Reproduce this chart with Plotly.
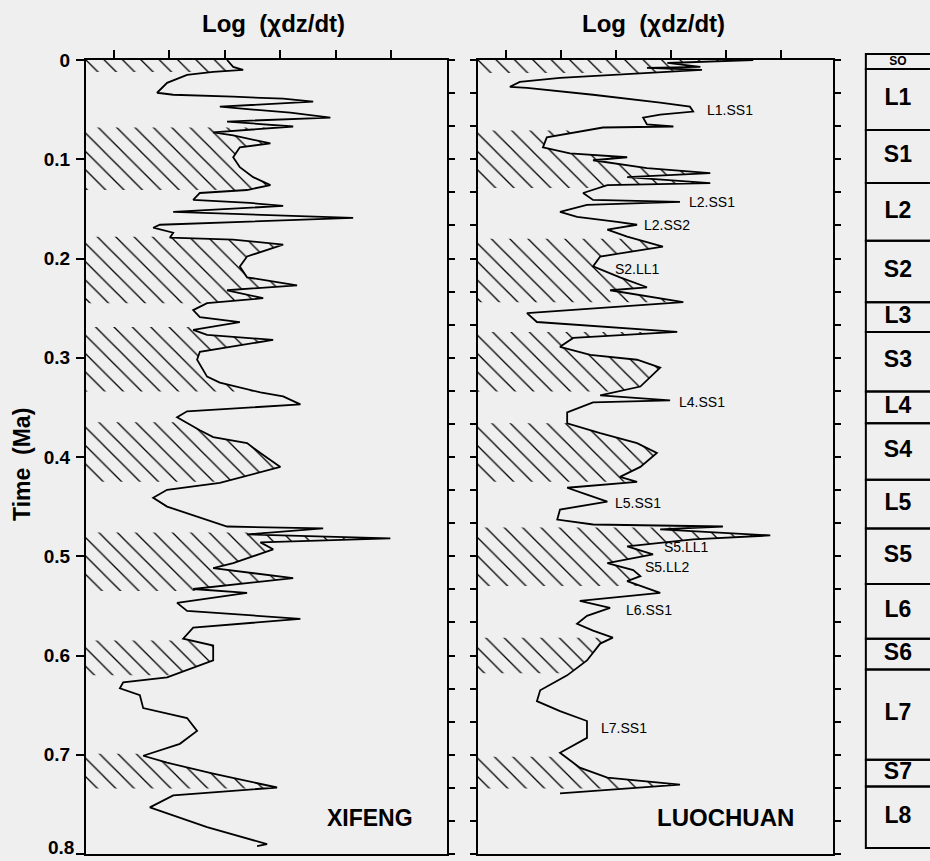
import numpy as np
import plotly.graph_objects as go

# ---------------- data ----------------
XF_T = [0, .007, .010, .012, .015, .023, .033, .035, .037, .039,
        .042, .047, .050, .053, .058, .062, .067, .073, .076, .084,
        .088, .098, .108, .118, .126, .131, .134, .141, .144, .147,
        .153, .159, .166, .169, .174, .179, .181, .186, .198, .208,
        .219, .227, .232, .240, .245, .252, .259, .264, .272, .277,
        .282, .294, .302, .319, .325, .335, .339, .347, .354, .360,
        .373, .380, .386, .396, .410, .426, .433, .441, .450, .470,
        .472, .478, .482, .486, .493, .507, .512, .522, .533, .537,
        .547, .555, .563, .572, .583, .590, .605, .622, .627, .633,
        .640, .653, .663, .676, .689, .701, .708, .719, .733, .741,
        .753, .773, .790, .792]
XF_V = [2.54, 2.65, 2.83, 2.29, 1.82, 1.46, 1.28, 1.57, 2.65, 3.55,
        4.09, 2.41, 3.01, 3.68, 4.40, 2.54, 3.73, 2.29, 2.65, 3.32,
        2.77, 2.65, 2.77, 3.01, 3.32, 2.90, 2.05, 1.93, 2.95, 3.55,
        1.57, 4.81, 1.33, 1.21, 1.57, 1.51, 2.65, 3.55, 2.90, 2.77,
        2.90, 3.80, 2.54, 3.19, 2.18, 1.93, 2.05, 2.77, 1.93, 2.18,
        3.37, 2.05, 2.00, 2.18, 2.41, 3.14, 3.55, 3.86, 1.82, 1.64,
        2.05, 2.29, 2.90, 3.14, 3.50, 2.41, 1.46, 1.21, 1.46, 2.54,
        4.27, 2.90, 5.48, 3.14, 3.37, 2.65, 2.29, 3.73, 1.93, 2.90,
        1.64, 1.82, 3.86, 1.93, 1.75, 2.29, 2.29, 1.46, 0.67, 0.61,
        0.97, 1.03, 1.82, 2.00, 1.69, 1.03, 1.46, 2.29, 3.44, 1.57,
        1.15, 2.18, 3.26, 3.08]

LC_T = [0, .002, .003, .007, .008, .010, .015, .018, .022, .027,
        .028, .035, .043, .047, .052, .055, .058, .065, .067, .068,
        .078, .088, .094, .098, .101, .109, .114, .118, .124, .126,
        .134, .141, .143, .146, .153, .158, .163, .166, .171, .178,
        .188, .198, .208, .219, .229, .232, .244, .255, .264, .274,
        .280, .289, .297, .302, .310, .319, .329, .338, .343, .345,
        .355, .366, .376, .386, .396, .410, .420, .425, .431, .438,
        .445, .453, .463, .468, .470, .473, .479, .483, .490, .498,
        .507, .514, .520, .525, .537, .545, .552, .560, .568, .575,
        .582, .588, .605, .620, .635, .646, .656, .666, .683, .698,
        .713, .723, .730, .739]
LC_V = [5.00, 3.91, 3.44, 4.04, 3.07, 4.07, 2.40, 1.49, 0.76, 0.58,
        0.89, 2.09, 3.31, 3.85, 3.91, 3.31, 3.00, 3.07, 3.55, 2.27,
        1.25, 1.18, 1.67, 2.71, 2.09, 3.07, 4.22, 2.71, 4.22, 2.35,
        1.91, 2.09, 3.67, 1.98, 1.49, 1.80, 2.53, 2.89, 2.35, 2.71,
        3.36, 2.22, 2.09, 2.58, 3.07, 2.40, 3.73, 0.89, 1.07, 3.62,
        1.73, 1.49, 2.04, 2.89, 3.31, 3.13, 2.95, 2.22, 3.49, 2.09,
        1.62, 1.62, 2.22, 2.89, 3.25, 2.95, 2.58, 2.89, 1.62, 1.98,
        2.35, 1.49, 1.44, 2.09, 4.45, 3.31, 5.31, 3.91, 2.71, 3.18,
        2.35, 2.82, 2.95, 2.71, 3.31, 1.85, 2.40, 1.98, 1.80, 2.09,
        2.45, 2.22, 1.98, 1.62, 1.13, 1.07, 1.49, 1.98, 1.98, 1.49,
        1.85, 2.35, 3.67, 1.49]

# paleosol (hatched) intervals, Ma
XF_HATCH_START = [0.0, 0.068, 0.178, 0.269, 0.365, 0.476, 0.585, 0.699]
XF_HATCH_END = [0.012, 0.131, 0.245, 0.334, 0.425, 0.535, 0.620, 0.734]
LC_HATCH_START = [0.0, 0.071, 0.180, 0.274, 0.366, 0.471, 0.582, 0.702]
LC_HATCH_END = [0.013, 0.129, 0.244, 0.334, 0.425, 0.530, 0.618, 0.734]

# Luochuan sub-unit labels
LC_LABELS = ["L1.SS1", "L2.SS1", "L2.SS2", "S2.LL1", "L4.SS1", "L5.SS1",
             "S5.LL1", "S5.LL2", "L6.SS1", "L7.SS1"]
LC_LABEL_X = [4.13, 3.80, 2.98, 2.45, 3.62, 2.45, 3.35, 3.00, 2.65, 2.20]
LC_LABEL_T = [0.050, 0.143, 0.166, 0.211, 0.345, 0.446, 0.491, 0.511, 0.554, 0.673]

# stratigraphic column
STRAT_UNITS = ["SO", "L1", "S1", "L2", "S2", "L3", "S3", "L4", "S4",
               "L5", "S5", "L6", "S6", "L7", "S7", "L8"]
STRAT_BOUNDS = [-0.006, 0.009, 0.0705, 0.124, 0.182, 0.244, 0.274, 0.334,
                0.366, 0.423, 0.472, 0.528, 0.583, 0.614, 0.705, 0.732, 0.794]

TIME_TICKS = [0, 0.1, 0.2, 0.3, 0.4, 0.5, 0.6, 0.7, 0.8]
TIME_LABELS = ["0", "0.1", "0.2", "0.3", "0.4", "0.5", "0.6", "0.7", "0.8"]
X_TICKS = [0.5, 1.5, 2.5, 3.5, 4.5, 5.5]

# ---------------- figure ----------------
W, H = 930, 861
FONT = "Liberation Sans"
BG = "#efefef"
YDOM = [(H - 854) / H, (H - 60) / H]
YRANGE = [0.8, 0.0]


def hatch_polygon(ts, vs, t1, t2):
    ts = np.asarray(ts, float)
    vs = np.asarray(vs, float)
    m = (ts > t1) & (ts < t2)
    v1 = float(np.interp(t1, ts, vs))
    v2 = float(np.interp(t2, ts, vs))
    px = [0, v1] + list(vs[m]) + [v2, 0]
    py = [t1, t1] + list(ts[m]) + [t2, t2]
    return px, py


fig = go.Figure()

pattern = dict(shape="\\", fgcolor="black", bgcolor="rgba(0,0,0,0)",
               size=13, solidity=0.1, fillmode="replace")

for (ts, vs, starts, ends, xa, ya) in [
        (XF_T, XF_V, XF_HATCH_START, XF_HATCH_END, "x", "y"),
        (LC_T, LC_V, LC_HATCH_START, LC_HATCH_END, "x2", "y3")]:
    for t1, t2 in zip(starts, ends):
        px, py = hatch_polygon(ts, vs, t1, t2)
        fig.add_trace(go.Scatter(
            x=px, y=py, mode="lines", fill="toself",
            fillcolor="rgba(0,0,0,0)", fillpattern=pattern,
            line=dict(width=0, color="rgba(0,0,0,0)"),
            xaxis=xa, yaxis=ya, hoverinfo="skip", showlegend=False))
    fig.add_trace(go.Scatter(
        x=vs, y=ts, mode="lines", line=dict(color="black", width=1.8),
        xaxis=xa, yaxis=ya, showlegend=False))

# invisible traces to make sure overlay axes are drawn
fig.add_trace(go.Scatter(x=[0], y=[0], mode="markers", marker=dict(opacity=0),
                         xaxis="x", yaxis="y2", showlegend=False, hoverinfo="skip"))
fig.add_trace(go.Scatter(x=[0], y=[0], mode="markers", marker=dict(opacity=0),
                         xaxis="x2", yaxis="y4", showlegend=False, hoverinfo="skip"))

# stratigraphic column as stacked bars
thick = [b - a for a, b in zip(STRAT_BOUNDS[:-1], STRAT_BOUNDS[1:])]
fig.add_trace(go.Bar(
    x=[1.5] * len(STRAT_UNITS), y=thick, base=STRAT_BOUNDS[:-1], width=3.0,
    marker=dict(color="rgba(0,0,0,0)", line=dict(color="black", width=2)),
    xaxis="x3", yaxis="y5", showlegend=False, hoverinfo="skip"))
mids = [(a + b) / 2 for a, b in zip(STRAT_BOUNDS[:-1], STRAT_BOUNDS[1:])]
fig.add_trace(go.Scatter(
    x=[0.5] * len(STRAT_UNITS), y=mids, mode="text", text=STRAT_UNITS,
    textfont=dict(family=FONT, size=[12] + [23] * (len(STRAT_UNITS) - 1),
                  color="black", weight="bold"),
    xaxis="x3", yaxis="y5", showlegend=False, hoverinfo="skip"))

axis_line = dict(showline=True, linecolor="black", linewidth=2,
                 showgrid=False, zeroline=False, automargin=False)

# last tick label is drawn separately (nudged up so it stays inside the page)
tick_text = TIME_LABELS[:-1] + [""]

layout = dict(
    width=W, height=H, margin=dict(l=0, r=0, t=0, b=0, pad=0),
    autosize=False,
    paper_bgcolor=BG, plot_bgcolor=BG, showlegend=False,
    font=dict(family=FONT, color="black"),
    xaxis=dict(domain=[86 / W, 447 / W], range=[0, 6.5], side="top",
               tickvals=X_TICKS, showticklabels=False, ticks="outside",
               ticklen=8, tickwidth=2, tickcolor="black", mirror=True,
               anchor="y", **axis_line),
    yaxis=dict(domain=YDOM, range=YRANGE, tickvals=TIME_TICKS,
               ticktext=tick_text, anchor="x", ticklabeloverflow="allow",
               ticks="outside", ticklen=8, tickwidth=2, tickcolor="black",
               tickfont=dict(family=FONT, size=19, color="black", weight="bold"),
               ticklabelstandoff=2, **axis_line),
    yaxis2=dict(domain=YDOM, range=YRANGE, overlaying="y", side="right",
                anchor="x", dtick=0.1 / 3, tick0=0, ticks="outside",
                ticklen=6, tickwidth=2, tickcolor="black",
                showticklabels=False, **axis_line),
    xaxis2=dict(domain=[478 / W, 833 / W], range=[0, 6.45], side="top",
                tickvals=X_TICKS, showticklabels=False, ticks="outside",
                ticklen=8, tickwidth=2, tickcolor="black", mirror=True,
                anchor="y3", **axis_line),
    yaxis3=dict(domain=YDOM, range=YRANGE, anchor="x2", dtick=0.1 / 3,
                tick0=0, ticks="outside", ticklen=6, tickwidth=2,
                tickcolor="black", showticklabels=False, **axis_line),
    yaxis4=dict(domain=YDOM, range=YRANGE, overlaying="y3", side="right",
                anchor="x2", dtick=0.1 / 3, tick0=0, ticks="outside",
                ticklen=6, tickwidth=2, tickcolor="black",
                showticklabels=False, **axis_line),
    xaxis3=dict(domain=[862 / W, 1.0], range=[-0.06, 1.0], visible=False,
                anchor="y5"),
    yaxis5=dict(domain=[(H - 854) / H, (H - 50) / H],
                range=[0.8, -0.0101], visible=False, anchor="x3"),
    bargap=0,
)
fig.update_layout(**layout)

ann = []
for cx in [273, 653]:
    ann.append(dict(text="Log  (χdz/dt)", x=cx / W, y=1 - 23 / H,
                    xref="paper", yref="paper", showarrow=False,
                    xanchor="center", yanchor="middle",
                    font=dict(family=FONT, size=24, color="black", weight="bold")))
ann.append(dict(text="Time  (Ma)", x=22 / W, y=1 - 465 / H, xref="paper",
                yref="paper", textangle=-90, showarrow=False,
                xanchor="center", yanchor="middle",
                font=dict(family=FONT, size=23, color="black", weight="bold")))
ann.append(dict(text=TIME_LABELS[-1], x=76 / W, y=1 / H, xref="paper",
                yref="paper", showarrow=False, xanchor="right",
                yanchor="bottom",
                font=dict(family=FONT, size=19, color="black", weight="bold")))
ann.append(dict(text="XIFENG", x=5.12, y=0.764, xref="x", yref="y",
                showarrow=False, xanchor="center", yanchor="middle",
                font=dict(family=FONT, size=23, color="black", weight="bold")))
ann.append(dict(text="LUOCHUAN", x=4.49, y=0.763, xref="x2", yref="y3",
                showarrow=False, xanchor="center", yanchor="middle",
                font=dict(family=FONT, size=24, color="black", weight="bold")))
for lab, lx, lt in zip(LC_LABELS, LC_LABEL_X, LC_LABEL_T):
    ann.append(dict(text=lab, x=lx, y=lt, xref="x2", yref="y3",
                    xanchor="left", yanchor="middle", showarrow=False,
                    font=dict(family=FONT, size=14, color="black")))
fig.update_layout(annotations=ann)

fig.write_html(
    "out.html",
    config={"displayModeBar": False, "staticPlot": True},
    post_script="document.body.style.margin='0px';"
                "document.body.style.background='#efefef';",
)
